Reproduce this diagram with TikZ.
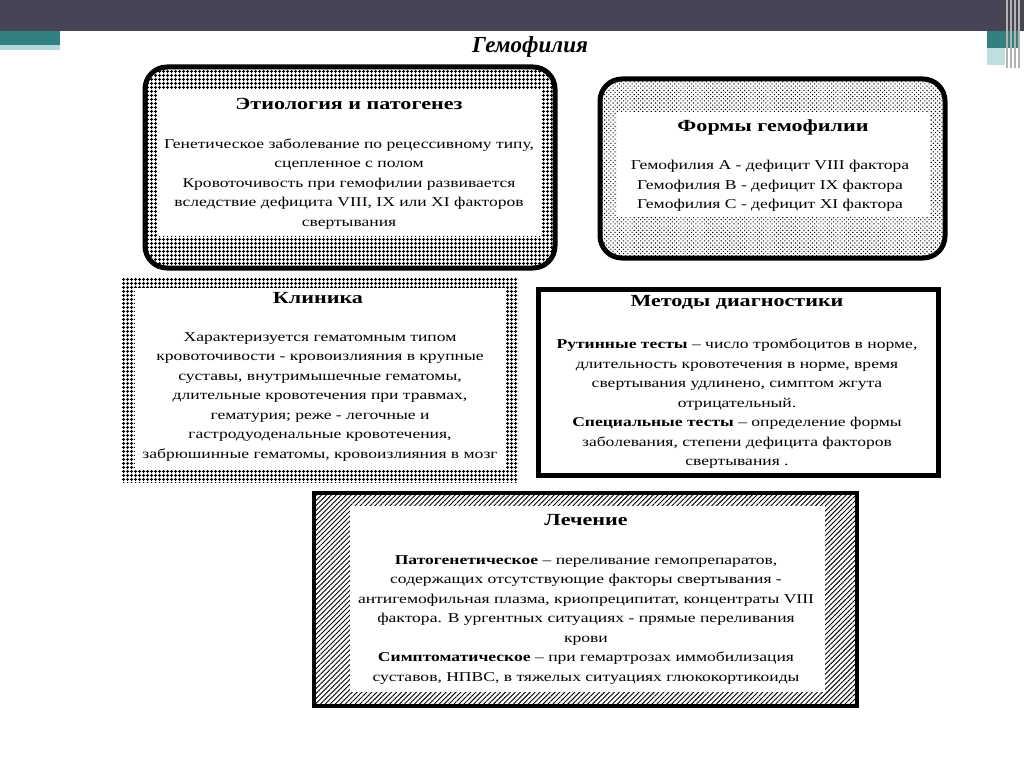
\documentclass[tikz,border=0pt]{standalone}
\usepackage{fontspec}
\setmainfont{Liberation Serif}
\newfontfamily\wide[FakeStretch=1.3]{Liberation Serif}
\usetikzlibrary{patterns.meta}
\begin{document}
\begin{tikzpicture}[x=1pt,y=-1pt,
  txt/.style={align=center,font=\wide\fontsize{13.5}{19.5}\selectfont,inner sep=0pt},
  hd/.style={font=\wide\fontsize{17}{19}\selectfont\bfseries,inner sep=0pt},
  inner/.style={fill=white,draw=none},
  gridpat/.style={pattern={Hatch[angle=0,distance=4pt,line width=1.1pt]}},
  dotpat/.style={pattern={Dots[angle=45,distance=3pt,radius=0.75pt]}},
  hatchpat/.style={pattern={Lines[angle=45,distance=3.5pt,line width=0.9pt]}}]
\useasboundingbox (0,0) rectangle (1024,767);
\fill[white] (0,0) rectangle (1024,767);
\definecolor{barc}{HTML}{454556}
\fill[barc] (0,0) rectangle (1024,31);
\fill[teal!60!gray] (0,31) rectangle (60,45);
\fill[teal!30!white] (0,45) rectangle (60,50);
\fill[teal!60!gray] (987,31) rectangle (1020,48);
\fill[teal!25!white] (987,48) rectangle (1005,65);
\foreach \xx in {1006,1010,1014,1018} \fill[gray!60] (\xx,0) rectangle (\xx+1.5,68);
\node[font=\fontsize{23}{24}\selectfont\bfseries\itshape] (title) at (530,47) {Гемофилия};
% Etiology
\draw[line width=5pt,gridpat,rounded corners=22pt] (145,67) rectangle (555,268);
\fill[inner] (157,90) rectangle (541,236);
\node[hd] (h1) at (349,104) {Этиология и патогенез};
\node[txt] (t1) at (349,184) {Генетическое заболевание по рецессивному типу,\\сцепленное с полом\\Кровоточивость при гемофилии развивается\\вследствие дефицита VIII, IX или XI факторов\\свертывания};
% Forms
\draw[line width=5pt,dotpat,rounded corners=22pt] (600,79) rectangle (945,258);
\fill[inner] (617,112) rectangle (930,216);
\node[hd] (h2) at (773,127) {Формы гемофилии};
\node[txt] (t2) at (770,186) {Гемофилия А - дефицит VIII фактора\\Гемофилия В - дефицит IX фактора\\Гемофилия С - дефицит XI фактора};
% Clinic
\fill[gridpat] (121,277) rectangle (518,482);
\fill[inner] (135,288) rectangle (506,470);
\node[hd] (h3) at (318,298) {Клиника};
\node[txt] (t3) at (320,397) {Характеризуется гематомным типом\\кровоточивости - кровоизлияния в крупные\\суставы, внутримышечные гематомы,\\длительные кровотечения при травмах,\\гематурия; реже - легочные и\\гастродуоденальные кровотечения,\\забрюшинные гематомы, кровоизлияния в мозг};
% Methods
\draw[line width=5pt,fill=white] (538,289) rectangle (938,475);
\node[hd] (h4) at (737,302) {Методы диагностики};
\node[txt] (t4) at (737,404) {\textbf{Рутинные тесты} – число тромбоцитов в норме,\\длительность кровотечения в норме, время\\свертывания удлинено, симптом жгута\\отрицательный.\\\textbf{Специальные тесты} – определение формы\\заболевания, степени дефицита факторов\\свертывания .};
% Treatment
\draw[line width=4pt,hatchpat] (314,493) rectangle (857,706);
\fill[inner] (350,506) rectangle (825,692);
\node[hd] (h5) at (586,520) {Лечение};
\node[txt] (t5) at (586,620) {\textbf{Патогенетическое} – переливание гемопрепаратов,\\содержащих отсутствующие факторы свертывания -\\антигемофильная плазма, криопреципитат, концентраты VIII\\фактора. В ургентных ситуациях - прямые переливания\\крови\\\textbf{Симптоматическое} – при гемартрозах иммобилизация\\суставов, НПВС, в тяжелых ситуациях глюкокортикоиды};
\end{tikzpicture}
\end{document}
